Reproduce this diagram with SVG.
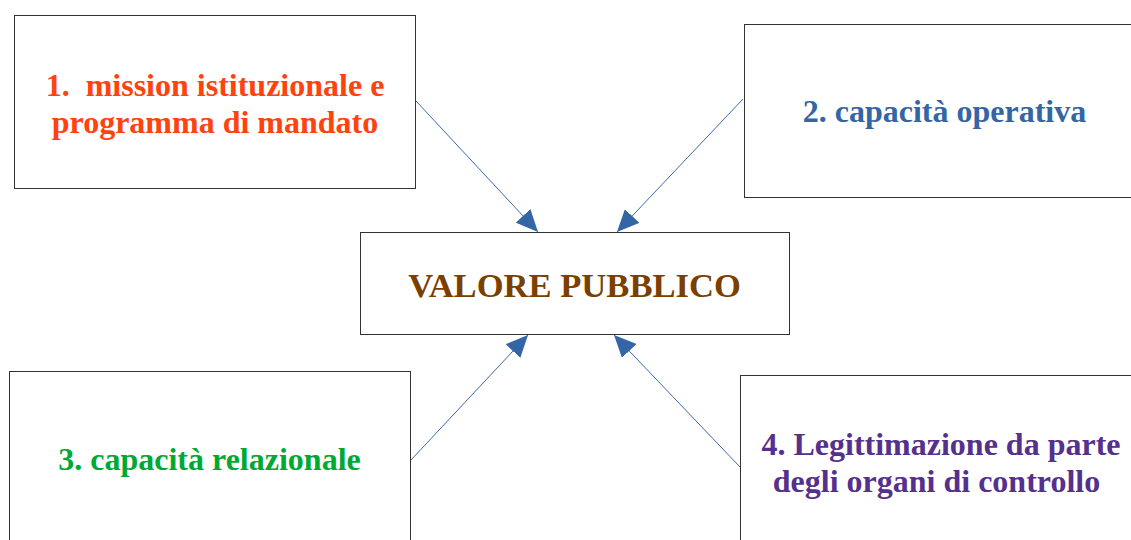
<svg xmlns="http://www.w3.org/2000/svg" width="1131" height="540" viewBox="0 0 1131 540">
<style>
.box{fill:#fff;stroke:#333;stroke-width:1}
.t{font-family:"Liberation Serif",serif;font-weight:bold;font-size:32px;text-anchor:middle}
.c{stroke:#3a6ab0;stroke-width:1;fill:none}
</style>
<defs>
<marker id="ah" markerWidth="22" markerHeight="20" refX="22" refY="10" orient="auto" markerUnits="userSpaceOnUse">
<path d="M0,0 L22,10 L0,20 Z" fill="#3465a4"/>
</marker>
</defs>
<rect width="1131" height="540" fill="#fff"/>
<g id="n1"><rect class="box" x="14.5" y="15.5" width="401" height="173"/>
<text class="t" fill="#ff420e" x="215" y="96" xml:space="preserve">1.  mission istituzionale e</text>
<text class="t" fill="#ff420e" x="215" y="133">programma di mandato</text></g>
<g id="n2"><rect class="box" x="744.5" y="24.5" width="400" height="173"/>
<text class="t" fill="#3465a4" x="944.5" y="122">2. capacità operativa</text></g>
<g id="center"><rect class="box" x="360.5" y="232.5" width="429" height="102"/>
<text class="t" fill="#7b3f00" x="574.5" y="297" style="font-size:34.6px">VALORE PUBBLICO</text></g>
<g id="n3"><rect class="box" x="9.5" y="371.5" width="401" height="180"/>
<text class="t" fill="#00a933" x="209.5" y="470">3. capacità relazionale</text></g>
<g id="n4"><rect class="box" x="740.5" y="375.5" width="400" height="180"/>
<text class="t" fill="#55308d" x="941" y="455">4. Legittimazione da parte</text>
<text class="t" fill="#55308d" x="936.5" y="492">degli organi di controllo</text></g>
<g id="connectors">
<line class="c" x1="416" y1="101" x2="538" y2="232" marker-end="url(#ah)"/>
<line class="c" x1="743" y1="99" x2="617" y2="232" marker-end="url(#ah)"/>
<line class="c" x1="411" y1="460" x2="528" y2="335" marker-end="url(#ah)"/>
<line class="c" x1="740" y1="467" x2="614" y2="335" marker-end="url(#ah)"/>
</g>
</svg>
